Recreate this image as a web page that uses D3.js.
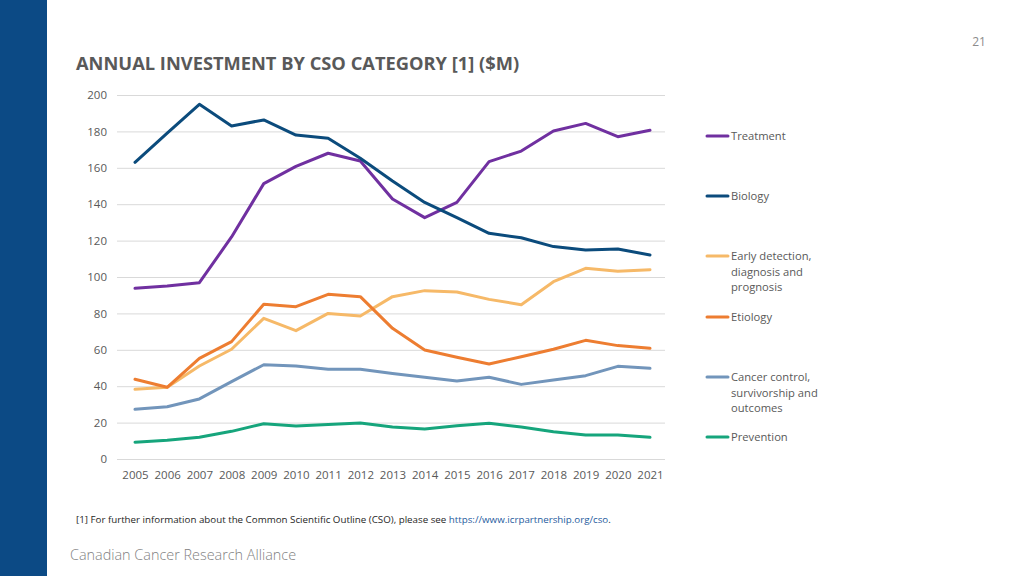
<!DOCTYPE html>
<html><head><meta charset="utf-8">
<script src="https://cdn.jsdelivr.net/npm/d3@7"></script>
<style>
body{margin:0;background:#fff;}
svg{display:block;font-family:"Open Sans","Noto Sans",sans-serif;}
</style></head><body>
<svg id="c" width="1024" height="576"></svg>
<script>
const years = [2005,2006,2007,2008,2009,2010,2011,2012,2013,2014,2015,2016,2017,2018,2019,2020,2021];
const seriesNames = ["Treatment","Biology","Early detection, diagnosis and prognosis","Etiology","Cancer control, survivorship and outcomes","Prevention"];
const treatment = [93.8,95,96.9,122,151.3,160.8,168,163.7,142.9,132.6,141,163.4,169.2,180.2,184.4,177.1,180.6];
const biology = [163,179,194.9,183,186.3,178,176.2,165.2,152.7,141,132.6,124,121.6,116.7,114.8,115.4,112.1];
const earlyDetection = [38.3,39.4,51.1,60.3,77.3,70.5,80,78.6,89.2,92.5,91.8,87.7,84.8,97.4,104.8,103.2,104];
const etiology = [43.8,39.4,55.3,64.5,85,83.7,90.5,89.2,71.8,59.9,55.9,52.2,56.2,60.3,65.2,62.3,60.8];
const cancerControl = [27.3,28.7,33,42.5,51.8,51.1,49.3,49.3,47,44.9,42.9,44.9,41,43.4,45.8,50.9,49.8];
const prevention = [9.2,10.3,11.9,15.2,19.4,18.1,19,19.8,17.6,16.5,18.3,19.6,17.6,15,13.2,13.2,11.9];
const yTicks = [0,20,40,60,80,100,120,140,160,180,200];
const colors = ["#7030a0","#0b4b7c","#f6b968","#ed7d31","#7295bb","#16a57c"];
const legendLines = [["Treatment"],["Biology"],["Early detection,","diagnosis and","prognosis"],["Etiology"],["Cancer control,","survivorship and","outcomes"],["Prevention"]];
const allSeries = [treatment,biology,earlyDetection,etiology,cancerControl,prevention];

const svg = d3.select("#c");
svg.append("rect").attr("x",0).attr("y",0).attr("width",47).attr("height",576).attr("fill","#0c4a85");

svg.append("text").attr("x",979).attr("y",46).attr("text-anchor","middle")
  .attr("font-size",12).attr("fill","#8c8c8c").text("21");

svg.append("text").attr("x",76).attr("y",70).attr("font-size",18.3).attr("font-weight",700)
  .attr("fill","#595959").text("ANNUAL INVESTMENT BY CSO CATEGORY [1] ($M)");

const x = d3.scalePoint().domain(years).range([135,650]);
const y = d3.scaleLinear().domain([0,200]).range([459,95]);

const yAxis = d3.axisLeft(y).tickValues(yTicks).tickSize(-548).tickPadding(10);
const gy = svg.append("g").attr("transform","translate(117,0)").call(yAxis);
gy.select(".domain").remove();
gy.selectAll(".tick line").attr("stroke","#d9d9d9").attr("stroke-width",1);
gy.selectAll(".tick text").attr("fill","#595959").attr("font-size",11.5).attr("font-family","'Open Sans','Noto Sans',sans-serif");

const xAxis = d3.axisBottom(x).tickSize(0).tickPadding(12);
const gx = svg.append("g").attr("transform","translate(0,459)").call(xAxis);
gx.select(".domain").remove();
gx.selectAll(".tick text").attr("fill","#595959").attr("font-size",11.5).attr("font-family","'Open Sans','Noto Sans',sans-serif");

const line = d3.line().x((d,i)=>x(years[i])).y(d=>y(d));
allSeries.forEach((s,k)=>{
  svg.append("path").datum(s).attr("d",line).attr("fill","none")
    .attr("stroke",colors[k]).attr("stroke-width",3).attr("stroke-linejoin","round").attr("stroke-linecap","round");
});

const legendY = [136,196,256,317,377,437];
const lg = svg.append("g");
legendLines.forEach((lines,k)=>{
  lg.append("line").attr("x1",707).attr("x2",728).attr("y1",legendY[k]).attr("y2",legendY[k])
    .attr("stroke",colors[k]).attr("stroke-width",3).attr("stroke-linecap","round");
  const t = lg.append("text").attr("x",731).attr("y",legendY[k]+4).attr("font-size",11.2).attr("fill","#595959");
  lines.forEach((ln,i)=>{
    t.append("tspan").attr("x",731).attr("dy",i===0?0:15.6).text(ln);
  });
});

const fn = svg.append("text").attr("x",76).attr("y",523).attr("font-size",9.75).attr("fill","#262626");
fn.append("tspan").text("[1] For further information about the Common Scientific Outline (CSO), please see ");
fn.append("tspan").attr("fill","#1f5b9e").text("https://www.icrpartnership.org/cso");
fn.append("tspan").text(".");

svg.append("text").attr("x",70).attr("y",560).attr("font-size",14.4).attr("font-weight",300)
  .attr("fill","#7f7f7f").text("Canadian Cancer Research Alliance");
</script>
</body></html>
